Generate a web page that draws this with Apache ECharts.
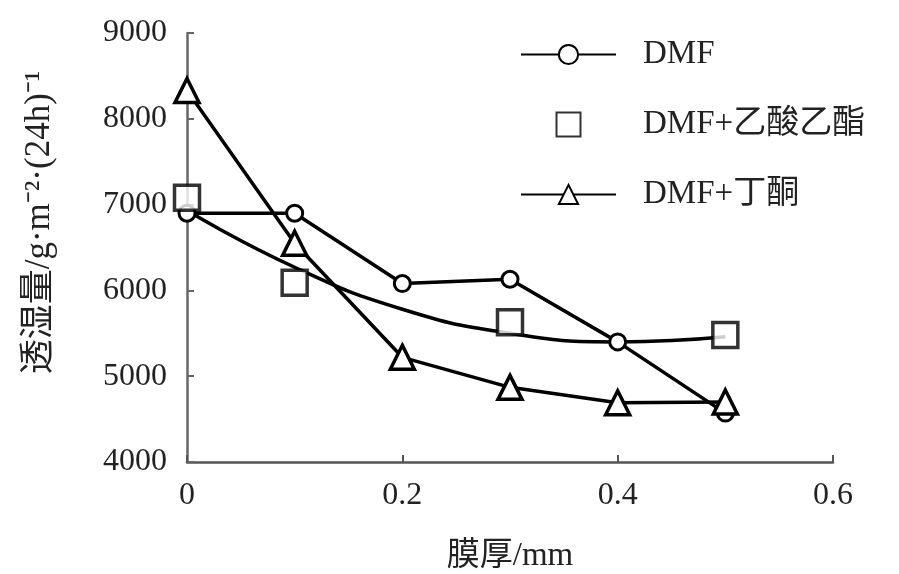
<!DOCTYPE html>
<html>
<head>
<meta charset="utf-8">
<script src="https://cdn.jsdelivr.net/npm/echarts@6/dist/echarts.min.js"></script>
<style>html,body{margin:0;padding:0;background:#fff;}#c{width:899px;height:574px;}</style>
</head>
<body>
<div id="c"></div>
<script>
var thickness = [0, 0.1, 0.2, 0.3, 0.4, 0.5];
var dmf = [6900, 6900, 6080, 6130, 5400, 4570];
var eaX = [0, 0.1, 0.3, 0.5];
var dmfEA = [7080, 6090, 5630, 5480];
var eaTrend = [6930, 6270, 5780, 5500, 5400, 5460];
var dmfMEK = [8330, 6550, 5220, 4870, 4690, 4700];
var xTicks = [0, 0.2, 0.4, 0.6];
var yTicks = [4000, 5000, 6000, 7000, 8000, 9000];
var names = ['DMF', 'DMF+乙酸乙酯', 'DMF+丁酮'];

function pairs(xs, ys) { return xs.map(function (x, i) { return [x, ys[i]]; }); }

var FONT = '"Liberation Serif", "Noto Sans CJK SC", serif';
var chart = echarts.init(document.getElementById('c'));
chart.setOption({
  backgroundColor: '#fff',
  animation: false,
  textStyle: { fontFamily: FONT, color: '#222' },
  grid: { left: 187, right: 66, top: 33, bottom: 112, containLabel: false, outerBoundsMode: 'none' },
  legend: {
    orient: 'vertical', left: 515, top: 33,
    itemWidth: 95, itemHeight: 24, itemGap: 37,
    symbolKeepAspect: true,
    data: [
      { name: names[0] },
      { name: names[1], icon: 'path://M0,0 L10,0 L10,10 L0,10 Z' },
      { name: names[2] }
    ],
    textStyle: { fontSize: 33, fontFamily: FONT, color: '#222', padding: [0, 0, 0, 22] }
  },
  xAxis: {
    type: 'value', min: xTicks[0], max: xTicks[xTicks.length - 1], interval: 0.2,
    name: '膜厚/mm', nameLocation: 'middle', nameGap: 78,
    nameTextStyle: { fontSize: 33, color: '#222', fontFamily: FONT },
    axisLine: { lineStyle: { color: '#555', width: 2.5 } },
    axisTick: { inside: true, length: 7, lineStyle: { color: '#555', width: 2 } },
    axisLabel: { fontSize: 32, color: '#222', margin: 18 },
    splitLine: { show: false }
  },
  yAxis: {
    type: 'value', min: yTicks[0], max: yTicks[yTicks.length - 1], interval: 1000,
    name: '透湿量/g·m⁻²·(24h)⁻¹', nameLocation: 'middle', nameGap: 130, nameRotate: 90,
    nameTextStyle: { fontSize: 35, color: '#222', fontFamily: FONT, padding: [0, 0, 0, 50] },
    axisLine: { show: true, lineStyle: { color: '#666', width: 2.5 } },
    axisTick: { show: true, inside: true, length: 7, lineStyle: { color: '#666', width: 2 } },
    axisLabel: { fontSize: 32, color: '#222', margin: 20, formatter: function (v) { return String(v); } },
    splitLine: { show: false }
  },
  series: [
    {
      name: names[0], type: 'line', data: pairs(thickness, dmf),
      symbol: 'circle', symbolSize: 16, showAllSymbol: true,
      itemStyle: { color: '#fff', borderColor: '#000', borderWidth: 3 },
      lineStyle: { color: '#000', width: 3.5 }, z: 3
    },
    {
      name: 'trend', type: 'line', data: pairs(thickness, eaTrend),
      smooth: 0.5, symbol: 'none',
      lineStyle: { color: '#000', width: 3.5 }, z: 2, legendHoverLink: false
    },
    {
      name: names[1], type: 'scatter', data: pairs(eaX, dmfEA),
      symbol: 'rect', symbolSize: 25,
      itemStyle: { color: '#fff', borderColor: '#000', borderWidth: 3.5 }, z: 4
    },
    {
      name: names[2], type: 'line', data: pairs(thickness, dmfMEK),
      symbol: 'triangle', symbolSize: 24, showAllSymbol: true,
      itemStyle: { color: '#fff', borderColor: '#000', borderWidth: 3.5 },
      lineStyle: { color: '#000', width: 3.5 }, z: 3
    }
  ]
});
</script>
</body>
</html>
